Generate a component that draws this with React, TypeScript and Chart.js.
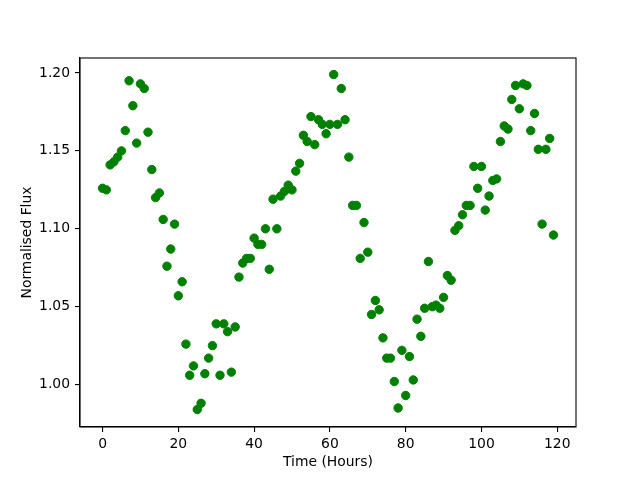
import React, { useEffect, useRef } from "react";
import { Chart, registerables } from "chart.js";

Chart.register(...registerables);

const TIME_HOURS = [
  0, 1, 2, 3, 4, 5, 6, 7, 8, 9, 10, 11, 12, 13, 14, 15, 16, 17, 18, 19,
  20, 21, 22, 23, 24, 25, 26, 27, 28, 29, 30, 31, 32, 33, 34, 35, 36, 37, 38, 39,
  40, 41, 42, 43, 44, 45, 46, 47, 48, 49, 50, 51, 52, 53, 54, 55, 56, 57, 58, 59,
  60, 61, 62, 63, 64, 65, 66, 67, 68, 69, 70, 71, 72, 73, 74, 75, 76, 77, 78, 79,
  80, 81, 82, 83, 84, 85, 86, 87, 88, 89, 90, 91, 92, 93, 94, 95, 96, 97, 98, 99,
  100, 101, 102, 103, 104, 105, 106, 107, 108, 109, 110, 111, 112, 113, 114, 115, 116, 117, 118, 119,
];

const FLUX = [
  1.126, 1.125, 1.141, 1.143, 1.146, 1.150, 1.163, 1.195, 1.179, 1.155,
  1.193, 1.190, 1.162, 1.138, 1.120, 1.123, 1.106, 1.076, 1.087, 1.103,
  1.057, 1.066, 1.026, 1.006, 1.012, 0.984, 0.988, 1.007, 1.017, 1.025,
  1.039, 1.006, 1.039, 1.034, 1.008, 1.037, 1.069, 1.078, 1.081, 1.081,
  1.094, 1.090, 1.090, 1.100, 1.074, 1.119, 1.100, 1.121, 1.124, 1.128,
  1.125, 1.137, 1.142, 1.160, 1.156, 1.172, 1.154, 1.170, 1.167, 1.161,
  1.167, 1.199, 1.167, 1.190, 1.170, 1.146, 1.115, 1.115, 1.081, 1.104,
  1.085, 1.045, 1.054, 1.048, 1.030, 1.017, 1.017, 1.002, 0.985, 1.022,
  0.993, 1.018, 1.003, 1.042, 1.031, 1.049, 1.079, 1.050, 1.051, 1.049,
  1.056, 1.070, 1.067, 1.099, 1.102, 1.109, 1.115, 1.115, 1.140, 1.126,
  1.140, 1.112, 1.121, 1.131, 1.132, 1.156, 1.166, 1.164, 1.183, 1.192,
  1.177, 1.193, 1.192, 1.163, 1.174, 1.151, 1.103, 1.151, 1.158, 1.096,
];

const X_TICKS = [0, 20, 40, 60, 80, 100, 120];
const Y_TICKS = [1.0, 1.05, 1.1, 1.15, 1.2];
const X_LABEL = "Time (Hours)";
const Y_LABEL = "Normalised Flux";

const FONT = { family: "'DejaVu Sans', sans-serif", size: 13.9 };

const framePlugin = {
  id: "frame",
  afterDatasetsDraw(chart: any) {
    const { ctx, chartArea } = chart;
    ctx.save();
    ctx.strokeStyle = "#000";
    ctx.lineWidth = 1.1;
    ctx.strokeRect(chartArea.left, chartArea.top, chartArea.right - chartArea.left, chartArea.bottom - chartArea.top);
    ctx.restore();
  },
};

export default function App() {
  const ref = useRef<HTMLCanvasElement>(null);

  useEffect(() => {
    if (!ref.current) return;
    const data = TIME_HOURS.map((t, i) => ({ x: t, y: FLUX[i] }));
    const chart = new Chart(ref.current, {
      type: "scatter",
      data: {
        datasets: [
          {
            data,
            backgroundColor: "#008000",
            borderColor: "#008000",
            borderWidth: 1,
            pointRadius: 4.2,
            pointHoverRadius: 4.2,
          },
        ],
      },
      plugins: [framePlugin],
      options: {
        animation: false,
        responsive: false,
        maintainAspectRatio: false,
        devicePixelRatio: 1,
        layout: { padding: { top: 58, right: 64, left: 0, bottom: 0 } },
        plugins: { legend: { display: false }, tooltip: { enabled: false } },
        scales: {
          x: {
            type: "linear",
            min: -5.95,
            max: 124.95,
            afterBuildTicks: (s: any) => {
              s.ticks = X_TICKS.map((v) => ({ value: v }));
            },
            afterFit: (s: any) => {
              s.height = 53;
            },
            grid: { drawOnChartArea: false, drawTicks: true, tickLength: 5, color: "#000", lineWidth: 1.1 },
            border: { display: true, color: "#000", width: 1.1 },
            ticks: { color: "#000", font: FONT, padding: 4, maxRotation: 0, callback: (v: any) => String(v) },
            title: { display: true, text: X_LABEL, color: "#000", font: FONT, padding: { top: 0, bottom: 9 } },
          },
          y: {
            type: "linear",
            min: 0.9728,
            max: 1.2096,
            afterBuildTicks: (s: any) => {
              s.ticks = Y_TICKS.map((v) => ({ value: v }));
            },
            afterFit: (s: any) => {
              s.width = 80;
            },
            grid: { drawOnChartArea: false, drawTicks: true, tickLength: 5, color: "#000", lineWidth: 1.1 },
            border: { display: true, color: "#000", width: 1.1 },
            ticks: { color: "#000", font: FONT, padding: 5, callback: (v: any) => Number(v).toFixed(2) },
            title: { display: true, text: Y_LABEL, color: "#000", font: FONT, padding: { top: 19, bottom: 0 } },
          },
        },
      },
    });
    return () => chart.destroy();
  }, []);

  return (
    <div style={{ position: "fixed", left: 0, top: 0, width: 640, height: 480, background: "#fff" }}>
      <canvas ref={ref} width={640} height={480} style={{ width: 640, height: 480, display: "block" }} />
    </div>
  );
}
